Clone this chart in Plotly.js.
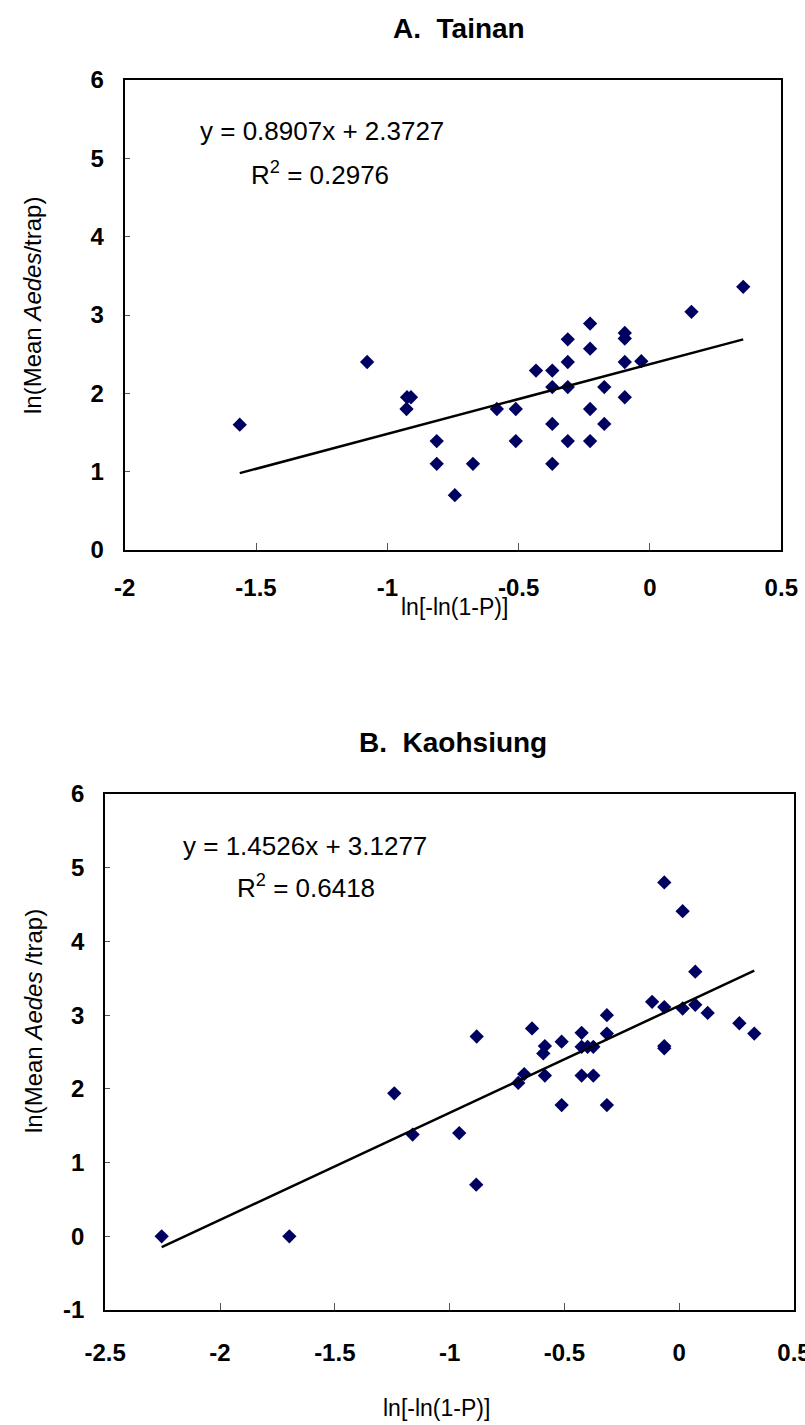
<!DOCTYPE html>
<html>
<head>
<meta charset="utf-8">
<script src="https://cdn.plot.ly/plotly-3.0.1.min.js"></script>
<style>html,body{margin:0;padding:0;background:#fff;}#chart{width:805px;height:1425px;}</style>
</head>
<body>
<div id="chart"></div>
<script>
// ---- Panel A: Tainan ----
const tainanX = [-1.562, -1.077, -0.925, -0.910, -0.927, -0.812, -0.812, -0.674, -0.743,
  0.355, 0.158, -0.228, -0.313, -0.096, -0.096, -0.228, -0.313, -0.096, -0.033,
  -0.434, -0.372, -0.372, -0.313, -0.174, -0.096, -0.583, -0.511, -0.228,
  -0.372, -0.174, -0.511, -0.313, -0.228, -0.372];
const tainanY = [1.60, 2.40, 1.95, 1.95, 1.80, 1.39, 1.10, 1.10, 0.70,
  3.36, 3.04, 2.89, 2.69, 2.77, 2.70, 2.57, 2.40, 2.40, 2.41,
  2.29, 2.29, 2.08, 2.08, 2.08, 1.95, 1.80, 1.80, 1.80,
  1.61, 1.61, 1.39, 1.39, 1.39, 1.10];
const tainanSlope = 0.8907, tainanIntercept = 2.3727, tainanR2 = 0.2976;

// ---- Panel B: Kaohsiung ----
const kaoX = [-2.254, -1.698, -1.241, -1.161,
  -0.065, 0.015, 0.070, -0.118, -0.065, 0.015, 0.070, 0.124, 0.262, 0.327,
  -0.065, -0.065, -0.315, -0.315, -0.425, -0.641, -0.882, -0.512, -0.585, -0.592,
  -0.425, -0.399, -0.374, -0.675, -0.701, -0.585, -0.425, -0.374,
  -0.512, -0.315, -0.958, -0.884];
const kaoY = [0.00, 0.00, 1.94, 1.38,
  4.80, 4.41, 3.59, 3.18, 3.11, 3.09, 3.14, 3.03, 2.89, 2.75,
  2.58, 2.55, 3.00, 2.75, 2.76, 2.82, 2.71, 2.64, 2.58, 2.48,
  2.57, 2.57, 2.57, 2.20, 2.08, 2.18, 2.18, 2.18,
  1.78, 1.78, 1.40, 0.70];
const kaoSlope = 1.4526, kaoIntercept = 3.1277, kaoR2 = 0.6418;

const xTicksA = [-2, -1.5, -1, -0.5, 0, 0.5];
const xTicksB = [-2.5, -2, -1.5, -1, -0.5, 0, 0.5];
const yTicksA = [0, 1, 2, 3, 4, 5, 6];
const yTicksB = [-1, 0, 1, 2, 3, 4, 5, 6];

const FONT = '"Liberation Sans", Arial, sans-serif';
const W = 805, H = 1425;
const px = v => v / W, py = v => 1 - v / H;

function fitLine(xs, m, b) {
  const lo = Math.min(...xs), hi = Math.max(...xs);
  return { x: [lo, hi], y: [m * lo + b, m * hi + b] };
}
const lineA = fitLine(tainanX, tainanSlope, tainanIntercept);
const lineB = fitLine(kaoX, kaoSlope, kaoIntercept);

const markerStyle = { symbol: 'diamond', size: 11, color: '#000060' };

const traces = [
  { x: tainanX, y: tainanY, type: 'scatter', mode: 'markers', marker: markerStyle, xaxis: 'x', yaxis: 'y', showlegend: false, cliponaxis: false },
  { x: lineA.x, y: lineA.y, type: 'scatter', mode: 'lines', line: { color: '#000', width: 2.5 }, xaxis: 'x', yaxis: 'y', showlegend: false },
  { x: kaoX, y: kaoY, type: 'scatter', mode: 'markers', marker: markerStyle, xaxis: 'x2', yaxis: 'y2', showlegend: false, cliponaxis: false },
  { x: lineB.x, y: lineB.y, type: 'scatter', mode: 'lines', line: { color: '#000', width: 2.5 }, xaxis: 'x2', yaxis: 'y2', showlegend: false }
];

const tickFont = { family: FONT, size: 24, color: '#000', weight: 'bold' };
const axisCommon = {
  showgrid: false, zeroline: false, showline: true, linecolor: '#000', linewidth: 2,
  mirror: true, ticks: 'inside', tickcolor: '#555', tickwidth: 1, ticklen: 7,
  tickfont: tickFont, ticklabeloverflow: 'allow'
};

function ann(text, x, y, size, extra) {
  return Object.assign({ text: text, x: px(x), y: py(y), xref: 'paper', yref: 'paper', showarrow: false,
    xanchor: 'center', yanchor: 'middle', font: { family: FONT, size: size, color: '#000' } }, extra || {});
}

const layout = {
  width: W, height: H,
  margin: { l: 0, r: 0, t: 0, b: 0 },
  paper_bgcolor: '#fff', plot_bgcolor: '#fff',
  xaxis: Object.assign({}, axisCommon, { domain: [px(124.7), px(781.3)], range: [-2, 0.5], tickvals: xTicksA, ticktext: xTicksA.map(String), anchor: 'y', ticklabelstandoff: 15 }),
  yaxis: Object.assign({}, axisCommon, { domain: [py(550), py(80)], range: [0, 6], tickvals: yTicksA, ticktext: yTicksA.map(String), anchor: 'x', ticklabelstandoff: 14, ticklen: 5 }),
  xaxis2: Object.assign({}, axisCommon, { domain: [px(105.2), px(794)], range: [-2.5, 0.5], tickvals: xTicksB, ticktext: xTicksB.map(String), anchor: 'y2', ticklabelstandoff: 20 }),
  yaxis2: Object.assign({}, axisCommon, { domain: [py(1310), py(794)], range: [-1, 6], tickvals: yTicksB, ticktext: yTicksB.map(String), anchor: 'x2', ticklabelstandoff: 14, ticklen: 5 }),
  annotations: [
    ann('<b>A.  Tainan</b>', 459, 28, 28),
    ann('<b>B.  Kaohsiung</b>', 453, 742, 28),
    ann('y = ' + tainanSlope.toFixed(4) + 'x + ' + tainanIntercept.toFixed(4), 322, 131, 26),
    ann('R<sup>2</sup> = ' + tainanR2.toFixed(4), 320, 173, 26),
    ann('y = ' + kaoSlope.toFixed(4) + 'x + ' + kaoIntercept.toFixed(4), 305, 846, 26),
    ann('R<sup>2</sup> = ' + kaoR2.toFixed(4), 306, 886, 26),
    ann('ln[-ln(1-P)]', 455, 607, 23),
    ann('ln[-ln(1-P)]', 437, 1408, 23),
    ann('ln(Mean <i>Aedes</i>/trap)', 33, 306, 24, { textangle: -90 }),
    ann('ln(Mean <i>Aedes</i> /trap)', 33, 1021, 24, { textangle: -90 })
  ]
};

Plotly.newPlot('chart', traces, layout, { staticPlot: true, displayModeBar: false });
</script>
</body>
</html>
